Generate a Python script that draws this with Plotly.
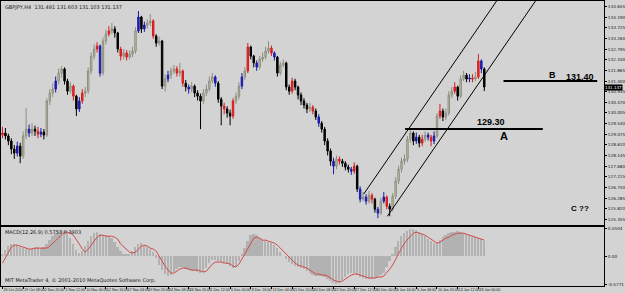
import plotly.graph_objects as go

# ---------------- data (GBPJPY, H4) ----------------
first_open = 129.05
closes = [
    129.13, 129.00, 128.78, 128.43, 128.25, 128.56, 128.12, 129.00, 129.30, 129.13,
    129.30, 129.21, 129.08, 129.17, 129.04, 130.53, 130.88, 131.05, 131.40, 131.75,
    131.93, 131.40, 130.96, 131.18, 130.74, 130.18, 130.53, 130.88, 130.96, 131.84,
    132.49, 132.80, 132.93, 131.75, 133.15, 133.46, 133.59, 133.68, 133.50, 132.80,
    132.49, 132.63, 132.45, 132.58, 132.71, 133.59, 134.20, 133.68, 133.85, 133.94,
    134.03, 133.37, 133.06, 133.15, 131.18, 131.49, 131.66, 131.84, 131.93, 131.75,
    131.84, 131.31, 131.14, 131.05, 131.18, 130.88, 130.74, 130.53, 130.88, 131.05,
    131.40, 131.58, 131.31, 130.61, 130.31, 130.18, 130.00, 129.87, 130.53, 130.74,
    131.18, 131.58, 131.84, 132.89, 132.49, 132.19, 132.01, 132.36, 132.45, 132.71,
    132.84, 132.63, 132.45, 131.75, 132.10, 132.19, 131.14, 130.96, 131.40, 131.14,
    130.79, 130.53, 130.35, 130.18, 130.26, 130.09, 129.83, 129.56, 129.30, 128.78,
    128.34, 127.90, 127.68, 127.99, 127.90, 127.81, 127.64, 127.55, 127.46, 127.68,
    126.68, 126.24, 126.33, 126.15, 126.41, 126.24, 125.80, 125.63, 126.15, 126.33,
    125.93, 125.80, 126.37, 127.03, 127.55, 127.90, 127.99, 128.86, 129.13, 128.78,
    128.95, 128.69, 128.86, 129.04, 128.95, 128.78, 129.00, 129.87, 130.09, 129.83,
    130.00, 130.79, 130.96, 131.14, 130.74, 131.49, 131.66, 131.49, 131.53, 131.49,
    131.58, 132.28, 131.93, 131.14,
]
highs = [
    129.40, 129.35, 129.10, 128.90, 128.60, 128.75, 128.70, 129.20, 130.22, 129.50,
    129.55, 129.45, 129.40, 129.35, 129.30, 130.65, 131.05, 131.30, 131.60, 131.95,
    132.06, 132.00, 131.50, 131.35, 131.25, 130.80, 130.70, 131.05, 131.15, 132.00,
    132.65, 133.00, 133.10, 133.00, 133.30, 133.65, 133.80, 133.94, 133.80, 133.55,
    132.90, 132.80, 132.75, 132.75, 132.90, 133.75, 134.46, 134.25, 134.00, 134.10,
    134.33, 134.10, 133.45, 133.35, 133.20, 131.70, 131.85, 132.00, 132.10, 132.05,
    132.19, 131.90, 131.45, 131.25, 131.35, 131.25, 131.00, 130.85, 131.05, 131.25,
    131.60, 131.75, 131.65, 131.40, 130.70, 130.45, 130.30, 130.15, 130.65, 130.90,
    131.35, 131.75, 132.00, 133.06, 132.95, 132.55, 132.30, 132.50, 132.65, 132.90,
    133.15, 132.95, 132.70, 132.50, 132.25, 132.35, 132.25, 131.25, 131.55, 131.50,
    131.20, 130.90, 130.65, 130.45, 130.45, 130.35, 130.20, 129.95, 129.65, 129.40,
    128.90, 128.45, 128.05, 128.15, 128.10, 128.00, 127.90, 127.75, 127.65, 127.85,
    127.75, 126.80, 126.55, 126.45, 126.60, 126.50, 126.30, 125.90, 126.30, 126.55,
    126.40, 126.05, 126.50, 127.20, 127.70, 128.05, 128.20, 129.00, 129.30, 129.20,
    129.15, 129.05, 129.05, 129.20, 129.15, 129.05, 129.20, 130.00, 130.40, 130.20,
    130.20, 130.95, 131.15, 131.35, 131.20, 131.65, 131.85, 131.75, 131.70, 131.70,
    131.80, 132.58, 132.35, 132.00,
]
lows = [
    128.90, 128.85, 128.60, 128.20, 128.00, 128.10, 127.81, 128.00, 128.85, 128.95,
    129.00, 129.00, 128.90, 128.95, 128.85, 128.95, 130.35, 130.70, 130.90, 131.25,
    131.55, 131.25, 130.80, 130.85, 130.55, 129.87, 130.05, 130.40, 130.70, 130.85,
    131.70, 132.35, 132.65, 131.60, 131.65, 133.00, 133.35, 133.45, 133.30, 132.65,
    132.30, 132.35, 132.30, 132.35, 132.45, 132.60, 133.50, 133.50, 133.55, 133.70,
    133.80, 133.25, 132.90, 132.95, 131.05, 130.95, 131.35, 131.50, 131.70, 131.60,
    131.60, 131.15, 130.95, 130.85, 130.90, 130.70, 130.55, 129.30, 130.40, 130.75,
    130.95, 131.30, 131.15, 130.45, 129.47, 129.95, 129.80, 129.47, 129.75, 130.40,
    130.60, 131.05, 131.45, 131.75, 132.35, 132.00, 131.85, 131.90, 132.25, 132.35,
    132.60, 132.50, 132.30, 131.60, 131.65, 132.00, 131.00, 130.80, 130.85, 131.00,
    130.60, 130.35, 130.20, 130.00, 130.05, 129.95, 129.70, 129.40, 129.15, 128.60,
    128.15, 127.70, 127.33, 127.55, 127.75, 127.65, 127.50, 127.40, 127.30, 127.35,
    126.55, 126.10, 126.15, 126.00, 126.05, 126.05, 125.65, 125.41, 125.55, 126.05,
    125.80, 125.49, 125.70, 126.25, 126.90, 127.40, 127.75, 127.85, 128.70, 128.60,
    128.65, 128.50, 128.55, 128.75, 128.80, 128.55, 128.65, 128.90, 129.75, 129.65,
    129.70, 129.90, 130.65, 130.85, 130.55, 130.65, 131.40, 131.35, 131.35, 131.35,
    131.40, 131.50, 131.75, 130.96,
]
opens = [first_open] + closes[:-1]

red_bars = [0, 12, 24, 27, 32, 36, 40, 42, 51, 59, 61, 75, 78, 83, 91, 98, 105, 114,
            119, 125, 130, 142, 145, 148, 153, 159, 161]
blue_bars = [5, 9, 13, 18, 26, 33, 46, 48, 56, 63, 72, 81, 86, 92, 107, 112, 118, 121,
             123, 127, 129, 140, 144, 146, 158, 162]

macd_main = [
    0.02, 0.12, 0.20, 0.24, 0.24, 0.22, 0.18, 0.16, 0.14, 0.14,
    0.16, 0.18, 0.18, 0.16, 0.18, 0.24, 0.32, 0.40, 0.46, 0.50,
    0.52, 0.50, 0.44, 0.36, 0.24, 0.12, 0.06, 0.10, 0.20, 0.30,
    0.40, 0.46, 0.48, 0.44, 0.42, 0.42, 0.40, 0.36, 0.28, 0.18,
    0.10, 0.04, 0.02, 0.04, 0.10, 0.18, 0.24, 0.26, 0.22, 0.18,
    0.14, 0.08, -0.04, -0.18, -0.28, -0.36, -0.40, -0.38, -0.32, -0.26,
    -0.22, -0.22, -0.26, -0.28, -0.30, -0.30, -0.32, -0.34, -0.32, -0.24,
    -0.14, -0.08, -0.08, -0.10, -0.12, -0.14, -0.16, -0.20, -0.24, -0.22,
    -0.10, 0.04, 0.16, 0.30, 0.42, 0.44, 0.42, 0.36, 0.32, 0.30,
    0.28, 0.26, 0.22, 0.16, 0.08, 0.00, -0.06, -0.12, -0.16, -0.20,
    -0.22, -0.24, -0.26, -0.30, -0.34, -0.38, -0.40, -0.40, -0.40, -0.42,
    -0.46, -0.50, -0.54, -0.56, -0.54, -0.48, -0.42, -0.36, -0.34, -0.34,
    -0.38, -0.42, -0.44, -0.46, -0.46, -0.46, -0.44, -0.42, -0.38, -0.34,
    -0.22, -0.10, 0.04, 0.18, 0.30, 0.40, 0.46, 0.50, 0.54, 0.54,
    0.52, 0.48, 0.44, 0.40, 0.34, 0.30, 0.26, 0.26, 0.32, 0.38,
    0.42, 0.46, 0.48, 0.48, 0.50, 0.48, 0.46, 0.44, 0.42, 0.40,
    0.38, 0.36, 0.34, 0.30,
]
macd_signal = [
    -0.14, -0.04, 0.08, 0.18, 0.22, 0.22, 0.20, 0.18, 0.16, 0.14,
    0.14, 0.16, 0.16, 0.16, 0.16, 0.16, 0.20, 0.26, 0.32, 0.38,
    0.44, 0.48, 0.48, 0.46, 0.42, 0.34, 0.24, 0.14, 0.08, 0.14,
    0.22, 0.30, 0.38, 0.42, 0.42, 0.40, 0.40, 0.40, 0.38, 0.34,
    0.24, 0.18, 0.12, 0.08, 0.06, 0.08, 0.14, 0.20, 0.22, 0.20,
    0.16, 0.14, 0.10, 0.00, -0.12, -0.20, -0.28, -0.34, -0.34, -0.30,
    -0.26, -0.24, -0.24, -0.26, -0.28, -0.28, -0.28, -0.30, -0.32, -0.30,
    -0.22, -0.16, -0.12, -0.12, -0.12, -0.14, -0.14, -0.16, -0.20, -0.22,
    -0.16, -0.06, 0.04, 0.16, 0.26, 0.36, 0.38, 0.36, 0.32, 0.32,
    0.30, 0.28, 0.26, 0.22, 0.16, 0.10, 0.04, -0.04, -0.10, -0.14,
    -0.18, -0.20, -0.22, -0.24, -0.28, -0.32, -0.36, -0.36, -0.38, -0.38,
    -0.40, -0.44, -0.48, -0.50, -0.52, -0.50, -0.46, -0.42, -0.38, -0.36,
    -0.36, -0.38, -0.40, -0.42, -0.44, -0.44, -0.44, -0.42, -0.42, -0.40,
    -0.34, -0.26, -0.18, -0.06, 0.04, 0.16, 0.26, 0.34, 0.40, 0.46,
    0.48, 0.46, 0.44, 0.42, 0.38, 0.34, 0.30, 0.26, 0.28, 0.32,
    0.36, 0.38, 0.42, 0.44, 0.46, 0.46, 0.46, 0.44, 0.42, 0.40,
    0.38, 0.36, 0.34, 0.32,
]

time_labels = ["26 Oct 2010", "29 Oct 08:00", "2 Nov 20:00", "5 Nov 12:00",
               "10 Nov 00:00", "12 Nov 16:00", "17 Nov 04:00", "19 Nov 20:00",
               "24 Nov 08:00", "26 Nov 20:00", "1 Dec 12:00", "6 Dec 00:00",
               "8 Dec 16:00", "13 Dec 04:00", "15 Dec 20:00", "20 Dec 08:00",
               "22 Dec 20:00", "27 Dec 12:00", "30 Dec 00:00", "3 Jan 16:00",
               "6 Jan 08:00", "10 Jan 20:00", "13 Jan 12:00", "18 Jan 00:00"]
label_step = 7

price_ticks = [125.355, 125.820, 126.285, 126.750, 127.215, 127.680, 128.145,
               128.610, 129.075, 129.540, 130.005, 130.470, 130.935, 131.400,
               131.865, 132.330, 132.795, 133.260, 133.725, 134.190, 134.655]
macd_ticks = [0.5504, 0.0, -0.5771]
macd_tick_text = ["0.5504", "0.00", "-0.5771"]

last_price = 131.137
header = "GBPJPY,H4  131.491 131.603 131.103 131.137"
macd_header = "MACD(12,26,9) 0.5753 0.3903"
copyright_text = "MIT MetaTrader 4, \u00a9 2001-2010 MetaQuotes Software Corp."

# channel and levels (bar index, price)
channel_upper_x = [122.2, 175.0]
channel_upper_y = [126.46, 136.37]
channel_lower_x = [130.2, 185.0]
channel_lower_y = [125.49, 135.78]
level_b_x = [169.5, 201.2]
level_b = 131.40
level_a_x = [136.2, 182.8]
level_a = 129.30

# ---------------- figure ----------------
BG = "#D3D3D3"
n = len(closes)
idx = list(range(n))
special = set(red_bars) | set(blue_bars)
normal = [i for i in idx if i not in special]


def candle(sel, inc_line, inc_fill, dec_line, dec_fill):
    return go.Candlestick(
        x=sel, open=[opens[i] for i in sel], high=[highs[i] for i in sel],
        low=[lows[i] for i in sel], close=[closes[i] for i in sel],
        increasing=dict(line=dict(color=inc_line, width=1), fillcolor=inc_fill),
        decreasing=dict(line=dict(color=dec_line, width=1), fillcolor=dec_fill),
        whiskerwidth=0, showlegend=False, hoverinfo="skip",
        xaxis="x", yaxis="y")


fig = go.Figure()
fig.add_trace(candle(normal, "#8e8e7e", "#c6c6b4", "#000000", "#000000"))
fig.add_trace(candle(red_bars, "#d81c1c", "#e03030", "#d81c1c", "#e03030"))
fig.add_trace(candle(blue_bars, "#1a1aa8", "#2020c0", "#1a1aa8", "#2020c0"))

for xs, ys in [(channel_upper_x, channel_upper_y), (channel_lower_x, channel_lower_y)]:
    fig.add_trace(go.Scatter(x=xs, y=ys, mode="lines", line=dict(color="black", width=1),
                             showlegend=False, hoverinfo="skip", xaxis="x", yaxis="y"))
fig.add_trace(go.Scatter(x=level_b_x, y=[level_b, level_b], mode="lines",
                         line=dict(color="black", width=2), showlegend=False,
                         hoverinfo="skip", xaxis="x", yaxis="y"))
fig.add_trace(go.Scatter(x=level_a_x, y=[level_a, level_a], mode="lines",
                         line=dict(color="black", width=2), showlegend=False,
                         hoverinfo="skip", xaxis="x", yaxis="y"))

fig.add_trace(go.Bar(x=idx, y=macd_main, width=0.6, marker=dict(color="#b2b2b2", line=dict(width=0)),
                     showlegend=False, hoverinfo="skip", xaxis="x2", yaxis="y2"))
fig.add_trace(go.Scatter(x=idx, y=macd_signal, mode="lines", line=dict(color="#d24a4a", width=1),
                         showlegend=False, hoverinfo="skip", xaxis="x2", yaxis="y2"))

tick_pos = [i * label_step for i in range(len(time_labels))]

small = dict(family="DejaVu Sans", size=5, color="#202020")
tiny = dict(family="Liberation Sans Narrow, Liberation Sans", size=3.6, color="#202020")
axisfont = dict(family="DejaVu Sans", size=4.2, color="#202020")
bold = "Liberation Sans"

fig.update_layout(
    width=625, height=293,
    margin=dict(l=1, r=13, t=0, b=7),
    paper_bgcolor=BG, plot_bgcolor=BG,
    bargap=0,
    xaxis=dict(domain=[0, 1], anchor="y", range=[-0.5, 203.5], showticklabels=False,
               showgrid=False, zeroline=False, showline=True, mirror=True,
               linecolor="#000000", linewidth=1, ticks="", rangeslider=dict(visible=False)),
    yaxis=dict(domain=[0.2133, 1], anchor="x", range=[125.10, 134.90], side="right",
               tickvals=price_ticks, ticktext=[f"{v:.3f}" for v in price_ticks],
               ticks="outside", ticklen=2, tickcolor="#000000", tickfont=axisfont,
               showgrid=False, zeroline=False, showline=True, mirror=True,
               linecolor="#000000", linewidth=1),
    xaxis2=dict(domain=[0, 1], anchor="y2", matches="x", range=[-0.5, 203.5],
                tickvals=tick_pos, ticktext=time_labels, ticklabelposition="outside right",
                tickangle=0, ticks="outside", ticklen=2, tickcolor="#000000", tickfont=tiny,
                showgrid=False, zeroline=False, showline=True, mirror=True,
                linecolor="#000000", linewidth=1, rangeslider=dict(visible=False)),
    yaxis2=dict(domain=[0, 0.2063], anchor="x2", range=[-0.60, 0.58], side="right",
                tickvals=macd_ticks, ticktext=macd_tick_text, ticks="outside", ticklen=2,
                tickcolor="#000000", tickfont=axisfont, showgrid=False, zeroline=False,
                showline=True, mirror=True, linecolor="#000000", linewidth=1),
)

ann = []
ann.append(dict(text=header, xref="paper", yref="paper", x=0.004, y=0.998,
                xanchor="left", yanchor="top", showarrow=False, font=small))
ann.append(dict(text=macd_header, xref="paper", yref="paper", x=0.004, y=0.2063,
                xanchor="left", yanchor="top", showarrow=False, font=small))
ann.append(dict(text=copyright_text, xref="paper", yref="paper", x=0.004, y=0.0,
                xanchor="left", yanchor="bottom", showarrow=False, font=small))
ann.append(dict(text="<b>B</b>", x=186.2, y=131.66, xref="x", yref="y", showarrow=False,
                font=dict(family=bold, size=9, color="black")))
ann.append(dict(text="<b>131.40</b>", x=195.3, y=131.60, xref="x", yref="y", showarrow=False,
                font=dict(family=bold, size=9, color="black")))
ann.append(dict(text="<b>129.30</b>", x=165.2, y=129.61, xref="x", yref="y", showarrow=False,
                font=dict(family=bold, size=9, color="black")))
ann.append(dict(text="<b>A</b>", x=169.8, y=129.02, xref="x", yref="y", showarrow=False,
                font=dict(family=bold, size=11, color="black")))
ann.append(dict(text="<b>C ??</b>", x=195.5, y=125.84, xref="x", yref="y", showarrow=False,
                font=dict(family=bold, size=8, color="black")))
ann.append(dict(text=f"{last_price:.3f}", xref="paper", yref="y", x=1.0, y=last_price,
                xanchor="left", yanchor="middle", showarrow=False, bgcolor="#000000",
                font=dict(family="DejaVu Sans", size=4, color="white"), borderpad=0))
fig.update_layout(annotations=ann)

fig.write_html("out.html")
